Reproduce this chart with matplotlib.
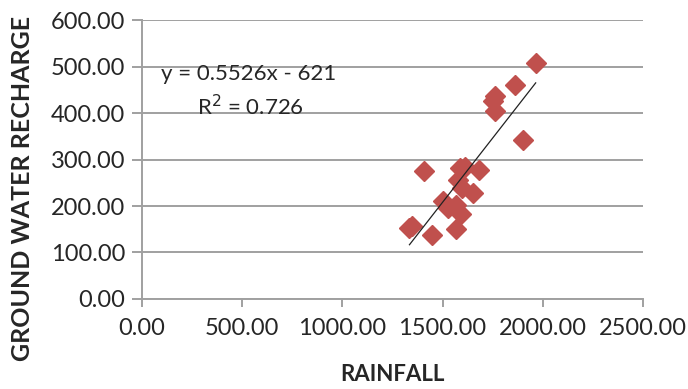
import matplotlib
matplotlib.use("Agg")
import matplotlib.pyplot as plt
import numpy as np

plt.rcParams['font.family'] = ['Lato', 'DejaVu Sans']

# rainfall vs ground water recharge
rainfall = [1965, 1860, 1763, 1752, 1760, 1902, 1410, 1585, 1610, 1682,
            1577, 1598, 1652, 1502, 1527, 1568, 1593, 1568, 1335, 1350, 1448]
recharge = [507, 461, 436, 425, 405, 341, 275, 282, 285, 278,
            257, 239, 229, 210, 196, 203, 182, 150, 153, 158, 137]

slope = 0.5526
intercept = -621
eq_text = "y = 0.5526x - 621"
r2_text = "R$^2$ = 0.726"

x_ticks = [0, 500, 1000, 1500, 2000, 2500]
y_ticks = [0, 100, 200, 300, 400, 500, 600]

fig = plt.figure(figsize=(6.88, 3.89), dpi=100)
ax = fig.add_axes([0.2064, 0.2314, 0.728, 0.717])

ax.grid(axis="y", color="#a0a0a0", linewidth=1.4)
ax.set_axisbelow(True)

ax.plot(rainfall, recharge, "D", color="#C0504D", markersize=10, zorder=3)

# trend line over data range
xs = np.array([min(rainfall), max(rainfall)])
ax.plot(xs, slope * xs + intercept, color="#222222", linewidth=0.9, zorder=4)

ax.set_xlim(0, 2500)
ax.set_ylim(0, 600)
ax.set_xticks(x_ticks)
ax.set_yticks(y_ticks)
ax.set_xticklabels(["%.2f" % v for v in x_ticks])
ax.set_yticklabels(["%.2f" % v for v in y_ticks])
ax.tick_params(labelsize=17, colors="#a0a0a0", labelcolor="#262626", width=1.4)
ax.tick_params(axis="y", length=7, pad=5)
ax.tick_params(axis="x", length=6, pad=8)

for s in ["top", "right"]:
    ax.spines[s].set_visible(False)
for s in ["left", "bottom"]:
    ax.spines[s].set_color("#a0a0a0")
    ax.spines[s].set_linewidth(1.4)

ax.text(95, 485, eq_text, fontsize=16, va="center", color="#262626")
ax.text(275, 414, r2_text, fontsize=16, va="center", color="#262626")

fig.text(0.571, 0.036, "RAINFALL", fontsize=16, fontweight="bold",
         ha="center", va="center", color="#262626")
fig.text(0.032, 0.515, "GROUND WATER RECHARGE", fontsize=18, fontweight="bold",
         ha="center", va="center", rotation=90, color="#262626")

fig.savefig("out.png", dpi=100)
